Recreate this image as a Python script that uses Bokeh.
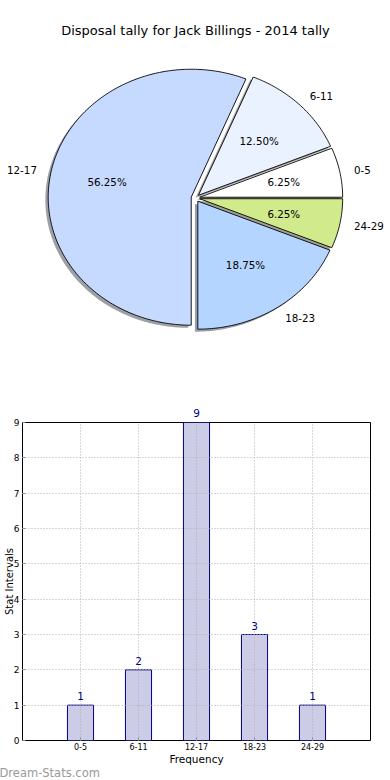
import numpy as np
from bokeh.plotting import figure
from bokeh.models import Range1d, Label, LabelSet, ColumnDataSource, FixedTicker, Title
from bokeh.layouts import column, row
from bokeh.embed import file_html
from bokeh.resources import INLINE
from bokeh.core.properties import value

# ---------------- data ----------------
title_text = "Disposal tally for Jack Billings - 2014 tally"
categories = ["0-5", "6-11", "12-17", "18-23", "24-29"]
counts = [1, 2, 9, 3, 1]
pie_colors = ["#ffffff", "#eaf1ff", "#c6d9ff", "#b4d5ff", "#d0ea8c"]
explode = [0.03, 0.03, 0.03, 0.03, 0.03]
y_ticks = [0, 1, 2, 3, 4, 5, 6, 7, 8, 9]
x_label = "Frequency"
y_label = "Stat Intervals"
watermark = "Dream-Stats.com"

FONT = "DejaVu Sans"
W = 390
H1 = 375
H2 = 780 - H1

# ---------------- pie ----------------
p1 = figure(width=W, height=H1, x_range=Range1d(-1.363, 1.364),
            y_range=Range1d(-1.387, 1.543), output_backend="svg",
            toolbar_location=None, min_border=0, min_border_left=0,
            min_border_right=0, min_border_top=0, min_border_bottom=0,
            x_axis_location=None, y_axis_location=None, title_location=None,
            outline_line_color=None)
p1.grid.visible = False

total = float(sum(counts))
fracs = np.array(counts, dtype=float) / total
cum = np.concatenate([[0.0], np.cumsum(fracs)])

xs, ys, sxs, sys_, shcols = [], [], [], [], []
pct_x, pct_y, pct_t = [], [], []
lab_l = dict(x=[], y=[], t=[])
lab_r = dict(x=[], y=[], t=[])
for i, f in enumerate(fracs):
    a0, a1 = 2 * np.pi * cum[i], 2 * np.pi * cum[i + 1]
    mid = 0.5 * (a0 + a1)
    ox, oy = explode[i] * np.cos(mid), explode[i] * np.sin(mid)
    t = np.linspace(a0, a1, max(8, int(f * 400)))
    px = np.concatenate([[ox], ox + np.cos(t), [ox]])
    py = np.concatenate([[oy], oy + np.sin(t), [oy]])
    xs.append(px.tolist())
    ys.append(py.tolist())
    sxs.append((px - 0.02).tolist())
    sys_.append((py - 0.02).tolist())
    c = pie_colors[i].lstrip("#")
    rgb = [int(c[k:k + 2], 16) for k in (0, 2, 4)]
    shcols.append("#%02x%02x%02x" % tuple(int(0.3 * v) for v in rgb))
    pct_x.append(ox + 0.6 * np.cos(mid))
    pct_y.append(oy + 0.6 * np.sin(mid))
    pct_t.append("%.2f%%" % (f * 100))
    lx, ly = ox + 1.1 * np.cos(mid), oy + 1.1 * np.sin(mid)
    d = lab_l if np.cos(mid) > 0 else lab_r
    d["x"].append(lx)
    d["y"].append(ly)
    d["t"].append(categories[i])

p1.patches(xs=sxs, ys=sys_, fill_color=shcols, fill_alpha=0.5, line_color=None)
p1.patches(xs=xs, ys=ys, fill_color=pie_colors, line_color="black", line_width=0.9)

p1.text(x=pct_x, y=pct_y, text=pct_t, text_align="center", text_baseline="middle",
        text_font=value(FONT), text_font_size="10.3px", text_color="black")
p1.text(x=lab_l["x"], y=lab_l["y"], text=lab_l["t"], text_align="left",
        text_baseline="middle", text_font=value(FONT), text_font_size="10.3px",
        text_color="black")
p1.text(x=lab_r["x"], y=lab_r["y"], text=lab_r["t"], text_align="right",
        text_baseline="middle", text_font=value(FONT), text_font_size="10.3px",
        text_color="black")

p1.add_layout(Label(x=W / 2, y=H1 - 30, x_units="screen", y_units="screen",
                    text=title_text, text_align="center", text_baseline="middle",
                    text_font=FONT, text_font_size="13px", text_color="black"))

# ---------------- bars ----------------
idx = list(range(len(categories)))
p2 = figure(width=W, height=H2, x_range=Range1d(-1, 5),
            y_range=Range1d(y_ticks[0], y_ticks[-1]),
            output_backend="svg", toolbar_location=None, title_location=None,
            min_border_left=19, min_border_right=20, min_border_top=47,
            min_border_bottom=40, outline_line_color="black", outline_line_width=1)

p2.vbar(x=idx, top=counts, width=0.45, bottom=0, fill_color="#ccccE6",
        line_color="#000080", line_width=1)

inside = [k for k in idx if counts[k] < y_ticks[-1]]
src = ColumnDataSource(dict(x=[idx[k] for k in inside], y=[counts[k] for k in inside],
                            txt=[str(counts[k]) for k in inside]))
p2.add_layout(LabelSet(x="x", y="y", text="txt", source=src, text_align="center",
                       text_baseline="alphabetic", y_offset=5,
                       text_font=value(FONT), text_font_size="10.5px",
                       text_color="#000080"))
# value label of the bar that reaches the top of the axis sits above the frame
for k in idx:
    if counts[k] >= y_ticks[-1]:
        p2.add_layout(Title(text=str(counts[k]), align="center", standoff=11,
                            text_font=FONT, text_font_size="10.5px",
                            text_font_style="normal", text_color="#000080"), "above")

p2.xaxis.ticker = FixedTicker(ticks=idx)
p2.xaxis.major_label_overrides = {i: c for i, c in enumerate(categories)}
p2.yaxis.ticker = FixedTicker(ticks=y_ticks)
for ax in (p2.xaxis, p2.yaxis):
    ax.axis_line_color = None
    ax.major_tick_in = 3
    ax.major_tick_out = 0
    ax.major_tick_line_color = "#888888"
    ax.minor_tick_line_color = None
    ax.major_label_text_font = FONT
    ax.major_label_text_color = "black"
    ax.axis_label_text_font = FONT
    ax.axis_label_text_font_style = "normal"
    ax.axis_label_text_color = "black"
p2.xaxis.major_label_text_font_size = "8px"
p2.yaxis.major_label_text_font_size = "9px"
p2.xaxis.major_label_standoff = 2
p2.yaxis.major_label_standoff = 3
p2.xaxis.axis_label = x_label
p2.xaxis.axis_label_text_font_size = "10.5px"
p2.xaxis.axis_label_standoff = 0
p2.yaxis.axis_label = y_label
p2.yaxis.axis_label_text_font_size = "10px"
p2.yaxis.axis_label_standoff = -4

p2.grid.grid_line_color = "#b0b0b0"
p2.grid.grid_line_dash = "1 2"
p2.grid.grid_line_width = 1
p2.grid.level = "annotation"

p2.add_layout(Title(text=watermark, align="left", offset=-23, standoff=-8,
                    text_font=FONT, text_font_size="11.5px", text_font_style="normal",
                    text_color="#999999"), "below")

try:
    p1.frame_align = False
    p2.frame_align = False
    layout = column(p1, p2)
except AttributeError:
    layout = column(row(p1), row(p2))

open("out.html", "w").write(file_html(layout, INLINE))
